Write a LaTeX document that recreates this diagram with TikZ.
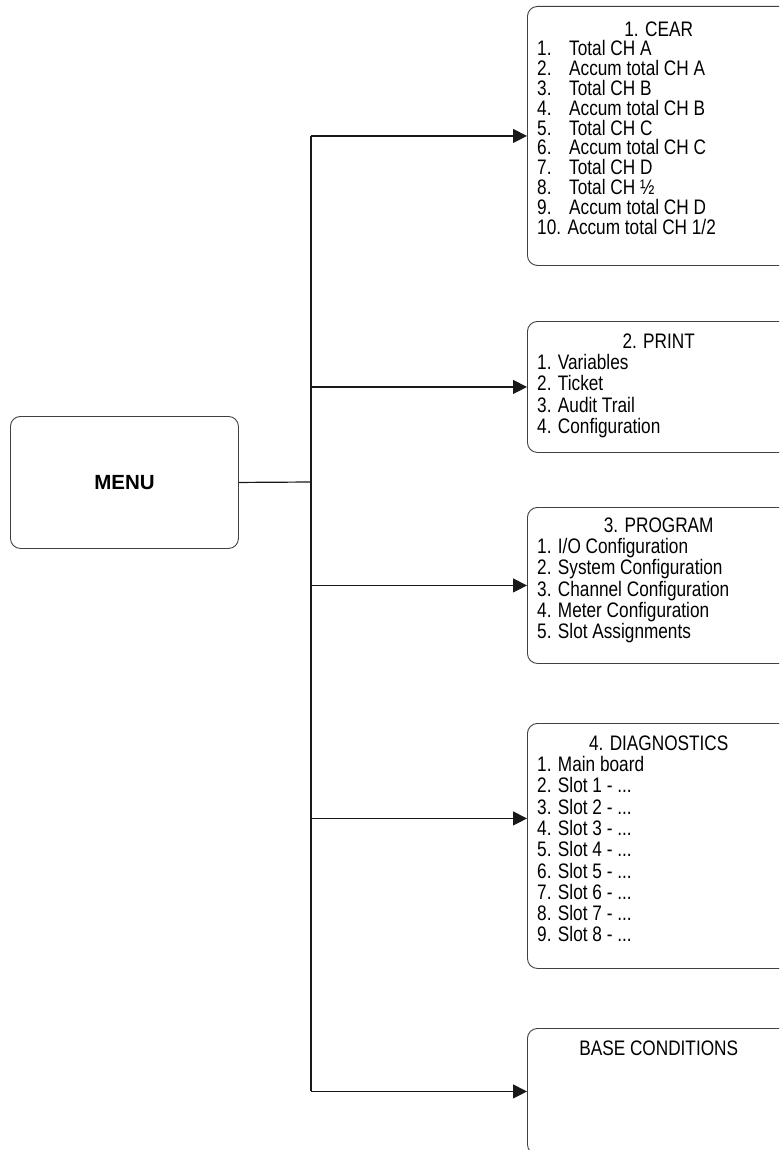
\documentclass[tikz,border=0pt]{standalone}
\usepackage{fontspec}
\setmainfont{Liberation Sans}
\newfontfamily\narrowfont[FakeStretch=0.82]{Liberation Sans}
\usetikzlibrary{arrows.meta, positioning, calc}

\tikzset{
    menubox/.style={draw=black!75, line width=0.9pt, rounded corners=10pt, inner sep=0pt, anchor=north west, minimum width=263pt},
    itemtext/.style={anchor=north west, inner sep=0pt, align=left, font=\narrowfont\fontsize{21}{21.3}\selectfont},
    link/.style={draw=black!90, line width=1.2pt},
    arrowlink/.style={link, -{Triangle[length=14pt, width=14pt]}}
}
\newcommand{\titleline}[1]{\makebox[243pt]{\rule{0pt}{17pt}#1}}
\newcommand{\numitem}[2]{\makebox[32pt][l]{#1}#2}

\begin{document}
\begin{tikzpicture}[x=1pt, y=-1pt]

    \useasboundingbox (0,0) rectangle (779,1150);
    \clip (0,0) rectangle (779,1150);

    % menu
    \node[menubox, minimum width=228pt, minimum height=132pt, font=\fontsize{20.5}{24}\selectfont\bfseries] (menu) at (10,416) {MENU};

    % submenus
    \node[menubox, minimum height=259pt] (cear) at (527,6) {};
    \node[itemtext, font=\narrowfont\fontsize{21}{19.8}\selectfont] (cear list) at (537,19) {\titleline{1. CEAR}\\
        \numitem{1.}{Total CH A}\\
        \numitem{2.}{Accum total CH A}\\
        \numitem{3.}{Total CH B}\\
        \numitem{4.}{Accum total CH B}\\
        \numitem{5.}{Total CH C}\\
        \numitem{6.}{Accum total CH C}\\
        \numitem{7.}{Total CH D}\\
        \numitem{8.}{Total CH ½}\\
        \numitem{9.}{Accum total CH D}\\
        10. Accum total CH 1/2};

    \node[menubox, minimum height=131pt] (print) at (527,321) {};
    \node[itemtext] (print list) at (537,331) {\titleline{2. PRINT}\\
        1. Variables\\
        2. Ticket\\
        3. Audit Trail\\
        4. Configuration};

    \node[menubox, minimum height=156pt] (program) at (527,507) {};
    \node[itemtext] (program list) at (537,515) {\titleline{3. PROGRAM}\\
        1. I/O Configuration\\
        2. System Configuration\\
        3. Channel Configuration\\
        4. Meter Configuration\\
        5. Slot Assignments};

    \node[menubox, minimum height=245pt] (diag) at (527,723) {};
    \node[itemtext] (diag list) at (537,733) {\titleline{4. DIAGNOSTICS}\\
        1. Main board\\
        2. Slot 1 - ...\\
        3. Slot 2 - ...\\
        4. Slot 3 - ...\\
        5. Slot 4 - ...\\
        6. Slot 5 - ...\\
        7. Slot 6 - ...\\
        8. Slot 7 - ...\\
        9. Slot 8 - ...};

    \node[menubox, minimum height=126pt] (base) at (527,1028) {};
    \node[itemtext] (base list) at (537,1038) {\titleline{BASE CONDITIONS}};

    % connectors
    \coordinate (split) at (311,482);
    \coordinate (diag in) at ([yshift=27.5pt]diag.west);
    \draw[link] (menu.east) -- (split);
    \draw[link] (split |- cear.west) -- (split |- base.west);
    \draw[arrowlink] (split |- cear.west) -- (cear.west);
    \draw[arrowlink] (split |- print.west) -- (print.west);
    \draw[arrowlink] (split |- program.west) -- (program.west);
    \draw[arrowlink] (split |- diag in) -- (diag in);
    \draw[arrowlink] (split |- base.west) -- (base.west);

\end{tikzpicture}
\end{document}
